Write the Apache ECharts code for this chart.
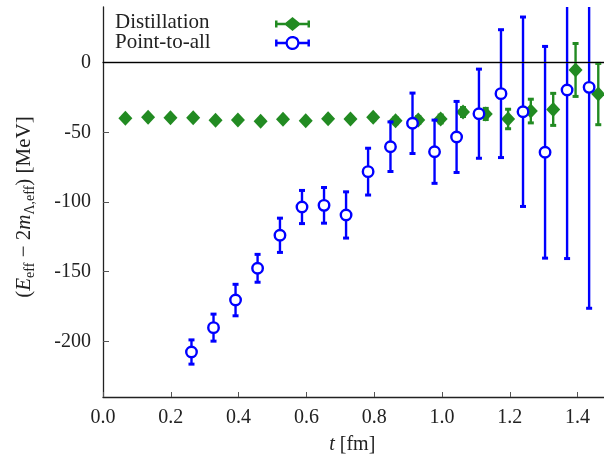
<!DOCTYPE html>
<html>
<head>
<meta charset="utf-8">
<script src="https://cdn.jsdelivr.net/npm/echarts@6/dist/echarts.min.js"></script>
<style>
html,body{margin:0;padding:0;background:#fff;}
#c{width:604px;height:457px;}
</style>
</head>
<body>
<div id="c"></div>
<script>
// ---- data ----
const distT   = [0.066,0.133,0.199,0.266,0.332,0.398,0.465,0.531,0.598,0.664,0.730,0.797,0.863,0.930,0.996,1.062,1.129,1.195,1.262,1.328,1.394,1.461];
const distE   = [-39.9,-39.2,-39.5,-39.5,-41.3,-41.1,-42.1,-40.6,-41.6,-40.2,-40.4,-39.2,-41.6,-41.1,-40.4,-35.4,-36.8,-40.4,-34.7,-33.5,-5.2,-22.5];
const distErr = [1.2,1.2,1.2,1.3,1.3,1.4,1.5,1.5,1.6,1.7,1.8,2.0,2.2,2.5,2.8,3.2,4.0,7.0,8.5,11.5,19.0,22.0];

const p2aT    = [0.261,0.326,0.391,0.456,0.522,0.587,0.652,0.717,0.782,0.848,0.913,0.978,1.043,1.109,1.174,1.239,1.304,1.369,1.434];
const p2aE    = [-207.7,-190.2,-170.4,-147.6,-123.9,-103.6,-102.4,-109.3,-78.2,-60.3,-43.5,-63.9,-53.3,-36.6,-22.2,-35.2,-64.3,-19.6,-17.7];
const p2aErr  = [8.7,9.7,11.3,10.0,12.3,11.9,12.8,16.6,16.8,17.8,21.7,22.7,25.5,32.0,45.9,68.0,76.0,121.0,158.6];

const yTicks = [-200,-150,-100,-50,0];
const seriesNames = ['Distillation','Point-to-all'];

const GREEN = '#228b22', BLUE = '#0000ff';
const FONT = 'Liberation Serif';

function errRender(color){
  return function(params, api){
    const x = api.value(0), lo = api.value(1), hi = api.value(2);
    const a = api.coord([x, lo]), b = api.coord([x, hi]);
    const cw = 6, ch = 3;
    return {type:'group', children:[
      {type:'line', shape:{x1:a[0],y1:a[1],x2:b[0],y2:b[1]}, style:{stroke:color, lineWidth:2.4}},
      {type:'rect', shape:{x:a[0]-cw/2,y:a[1]-ch/2,width:cw,height:ch}, style:{fill:color}},
      {type:'rect', shape:{x:b[0]-cw/2,y:b[1]-ch/2,width:cw,height:ch}, style:{fill:color}}
    ]};
  };
}

const distScatter = distT.map((t,i)=>[t, distE[i]]);
const distBars = distT.map((t,i)=>[t, distE[i]-distErr[i], distE[i]+distErr[i]]);
const p2aScatter = p2aT.map((t,i)=>[t, p2aE[i]]);
const p2aBars = p2aT.map((t,i)=>[t, p2aE[i]-p2aErr[i], p2aE[i]+p2aErr[i]]);

// legend icons (errorbar key style) 35x14 boxes
const iconGreen = 'path://M0,3.5 L2.5,3.5 L2.5,5.8 L10.5,5.8 L17.5,0 L24.5,5.8 L32.5,5.8 L32.5,3.5 L35,3.5 L35,10.5 L32.5,10.5 L32.5,8.2 L24.5,8.2 L17.5,14 L10.5,8.2 L2.5,8.2 L2.5,10.5 L0,10.5 Z';
const iconBlue = 'path://M0,3.5 L2.5,3.5 L2.5,5.8 L10.6,5.8 A7,7 0 0 1 24.4,5.8 L32.5,5.8 L32.5,3.5 L35,3.5 L35,10.5 L32.5,10.5 L32.5,8.2 L24.4,8.2 A7,7 0 0 1 10.6,8.2 L2.5,8.2 L2.5,10.5 L0,10.5 Z M22.3,7 A4.8,4.8 0 0 0 12.7,7 A4.8,4.8 0 0 0 22.3,7 Z';

const axisText = {fontFamily:FONT, fontSize:20, color:'#222'};

const chart = echarts.init(document.getElementById('c'), null, {renderer:'canvas'});
chart.setOption({
  animation:false,
  backgroundColor:'#fff',
  textStyle:{fontFamily:FONT},
  grid:{left:103, top:7, width:508.5, height:390, containLabel:false, outerBoundsMode:'none'},
  legend:{
    orient:'vertical', left:275, top:17, align:'left', padding:0,
    itemWidth:35, itemHeight:14, itemGap:5,
    selectedMode:false,
    formatter:()=>'',
    textStyle:{fontSize:1},
    data:[
      {name:seriesNames[0], icon:iconGreen, itemStyle:{color:GREEN, borderWidth:0}},
      {name:seriesNames[1], icon:iconBlue, itemStyle:{color:BLUE, borderWidth:0}}
    ]
  },
  graphic:[
    {type:'text', left:115, top:12, style:{text:seriesNames[0], font:'21px "Liberation Serif"', fill:'#222'}},
    {type:'text', left:115, top:32, style:{text:seriesNames[1], font:'21px "Liberation Serif"', fill:'#222'}}
  ],
  xAxis:[{
    type:'value', min:0, max:1.5, interval:0.2,
    splitLine:{show:false},
    axisLine:{show:true, onZero:false, lineStyle:{color:'#222', width:1.3}},
    axisTick:{show:true, inside:true, length:5, lineStyle:{color:'#555', width:1}},
    axisLabel:{...axisText, margin:11, showMaxLabel:false, formatter:v=>v.toFixed(1)},
    name:'{i|t} [fm]', nameLocation:'middle', nameGap:38,
    nameTextStyle:{...axisText, padding:[0,10,0,0], rich:{i:{fontFamily:FONT, fontSize:20, fontStyle:'italic', color:'#222'}}}
  },{
    type:'value', min:0, max:1.5, position:'top',
    axisLine:{show:true, lineStyle:{color:'#222', width:1.3}},
    axisTick:{show:false}, axisLabel:{show:false}, splitLine:{show:false}
  }],
  yAxis:{
    type:'value', min:-240, max:40,
    splitLine:{show:false},
    axisLine:{show:true, onZero:false, lineStyle:{color:'#222', width:1.3}},
    axisTick:{show:true, inside:true, length:6, customValues:yTicks, lineStyle:{color:'#555', width:1}},
    axisLabel:{...axisText, margin:12, customValues:yTicks},
    name:'{n|(}{i|E}{s|eff}{n| − 2}{i|m}{s|Λ,eff}{n|) [MeV]}',
    nameLocation:'middle', nameGap:66, nameRotate:90,
    nameTextStyle:{
      ...axisText, padding:[0,0,0,-10],
      rich:{
        n:{fontFamily:FONT, fontSize:21, color:'#222', lineHeight:26},
        i:{fontFamily:FONT, fontSize:21, fontStyle:'italic', color:'#222', lineHeight:26},
        s:{fontFamily:FONT, fontSize:14, color:'#222', lineHeight:13, verticalAlign:'bottom'}
      }
    }
  },
  series:[
    {type:'custom', name:'distErr', renderItem:errRender(GREEN), data:distBars, clip:true, z:2, silent:true,
     encode:{x:0, y:[1,2]}},
    {type:'scatter', name:seriesNames[0], data:distScatter, symbol:'diamond', symbolSize:[14,15],
     itemStyle:{color:GREEN, opacity:1}, z:3, clip:true,
     markLine:{silent:true, symbol:'none', label:{show:false}, animation:false,
       lineStyle:{color:'#000', width:1.2, type:'solid'}, data:[{yAxis:0}]}},
    {type:'custom', name:'p2aErr', renderItem:errRender(BLUE), data:p2aBars, clip:true, z:4, silent:true,
     encode:{x:0, y:[1,2]}},
    {type:'scatter', name:seriesNames[1], data:p2aScatter, symbol:'circle', symbolSize:10.5,
     itemStyle:{color:'#fff', borderColor:BLUE, borderWidth:2.4, opacity:1}, z:5, clip:true}
  ]
});
</script>
</body>
</html>
